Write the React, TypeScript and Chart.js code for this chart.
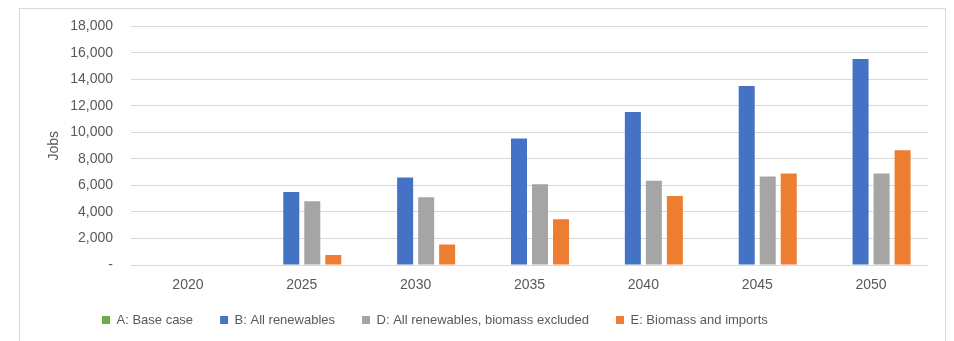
import React, { useEffect, useRef } from "react";
import { Chart, registerables } from "chart.js";

Chart.register(...registerables);

const categories = ["2020", "2025", "2030", "2035", "2040", "2045", "2050"];
const seriesNames = [
  "A: Base case",
  "B: All renewables",
  "D: All renewables, biomass excluded",
  "E: Biomass and imports",
];
const baseCase = [0, 0, 0, 0, 0, 0, 0];
const allRenewables = [0, 5500, 6600, 9550, 11550, 13500, 15550];
const renewablesNoBiomass = [0, 4800, 5120, 6100, 6350, 6680, 6900];
const biomassImports = [0, 750, 1550, 3450, 5200, 6900, 8650];
const yTicks = [0, 2000, 4000, 6000, 8000, 10000, 12000, 14000, 16000, 18000];
const colors = ["#70AD47", "#4472C4", "#A5A5A5", "#ED7D31"];

const FONT = "'Liberation Sans', Arial, sans-serif";
const TEXT = "#595959";

export default function App() {
  const ref = useRef<HTMLCanvasElement | null>(null);

  useEffect(() => {
    if (!ref.current) return;
    const values = [baseCase, allRenewables, renewablesNoBiomass, biomassImports];
    const legendShift = {
      id: "legendShift",
      beforeDraw(chart: any) {
        const lg = chart.legend;
        if (lg) {
          lg.left = 75;
          lg.top = chart.chartArea.bottom + 30 - 8.5;
        }
      },
    };
    const chart = new Chart(ref.current, {
      type: "bar",
      data: {
        labels: categories,
        datasets: seriesNames.map((name, i) => ({
          label: name,
          data: values[i],
          backgroundColor: colors[i],
          borderWidth: 0,
          barPercentage: 0.762,
          categoryPercentage: 0.738,
        })),
      },
      options: {
        animation: false,
        responsive: false,
        maintainAspectRatio: false,
        layout: { padding: { left: 46, top: 26, right: 26, bottom: -4 } },
        plugins: {
          tooltip: { enabled: false },
          legend: {
            position: "bottom",
            align: "start",
            labels: {
              boxWidth: 8,
              boxHeight: 8,
              padding: 27,
              color: TEXT,
              font: { family: FONT, size: 13 },
            },
          },
        },
        scales: {
          x: {
            grid: { display: false, drawTicks: false },
            border: { display: false },
            ticks: { color: TEXT, font: { family: FONT, size: 14 }, padding: 12 },
            afterFit: (s: any) => {
              s.height = 30;
            },
          },
          y: {
            min: 0,
            max: 18000,
            afterBuildTicks: (s: any) => {
              s.ticks = yTicks.map((v) => ({ value: v }));
            },
            grid: { color: "#d9d9d9", lineWidth: 1, drawTicks: false },
            border: { display: false },
            ticks: {
              color: TEXT,
              font: { family: FONT, size: 14 },
              padding: 18,
              callback: (v: any) => (Number(v) === 0 ? "-" : Number(v).toLocaleString("en-US")),
            },
            title: {
              display: true,
              text: "Jobs",
              color: TEXT,
              font: { family: FONT, size: 14 },
              padding: 0,
            },
            afterFit: (s: any) => {
              s.width = 85;
            },
          },
        },
      },
      plugins: [legendShift],
    });
    return () => chart.destroy();
  }, []);

  return (
    <div style={{ position: "absolute", left: 0, top: 0, width: 954, height: 341, background: "#fff", overflow: "hidden" }}>
      <div
        style={{
          position: "absolute",
          left: 19,
          top: 8,
          width: 927,
          height: 360,
          border: "1px solid #d9d9d9",
          boxSizing: "border-box",
        }}
      />
      <canvas ref={ref} width={954} height={341} style={{ position: "absolute", left: 0, top: 0 }} />
    </div>
  );
}
